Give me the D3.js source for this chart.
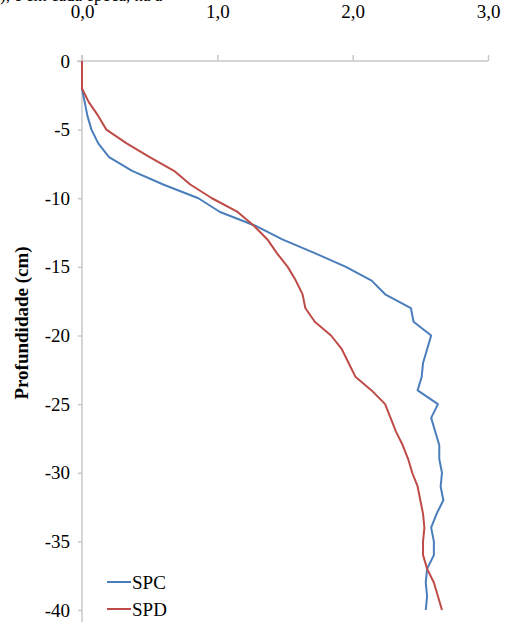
<!DOCTYPE html>
<html>
<head>
<meta charset="utf-8">
<script src="https://cdn.jsdelivr.net/npm/d3@7"></script>
<style>
  body { margin: 0; background: #fff; }
  svg { display: block; }
  .tick text { font-family: "Liberation Serif", "Times New Roman", serif; font-size: 19px; fill: #000; }
</style>
</head>
<body>
<div id="chart"></div>
<script>
// depth (cm) and values
var depths = [0, -1, -2, -3, -4, -5, -6, -7, -8, -9, -10, -11, -12, -13, -14, -15, -16, -17, -18, -19, -20,
  -21, -22, -23, -24, -25, -26, -27, -28, -29, -30, -31, -32, -33, -34, -35, -36, -37, -38, -39, -40];

var spc = [0, 0, 0, 0.02, 0.04, 0.07, 0.12, 0.2, 0.37, 0.6, 0.86, 1.02, 1.28, 1.48, 1.72, 1.95, 2.14, 2.24, 2.43, 2.45, 2.58,
  2.55, 2.52, 2.51, 2.48, 2.63, 2.58, 2.61, 2.64, 2.64, 2.66, 2.65, 2.67, 2.62, 2.58, 2.6, 2.6, 2.55, 2.54, 2.55, 2.54];

var spd = [0, 0, 0, 0.05, 0.12, 0.18, 0.33, 0.5, 0.68, 0.8, 0.96, 1.15, 1.27, 1.37, 1.44, 1.52, 1.58, 1.63, 1.65, 1.72, 1.84,
  1.92, 1.97, 2.02, 2.14, 2.24, 2.28, 2.32, 2.37, 2.41, 2.44, 2.48, 2.5, 2.52, 2.53, 2.52, 2.52, 2.55, 2.6, 2.63, 2.66];

var xTicks = [0, 1, 2, 3];
var yTicks = [0, -5, -10, -15, -20, -25, -30, -35, -40];

var series = [
  { name: "SPC", values: spc, color: "#4a7ebb" },
  { name: "SPD", values: spd, color: "#be4b48" }
];

var width = 505,
  height = 626;

var x = d3.scaleLinear().domain([0, 3]).range([82, 488]);
var y = d3.scaleLinear().domain([0, -40]).range([61, 610]);

var svg = d3.select("#chart")
  .append("svg")
  .attr("width", width)
  .attr("height", height);

// cropped text from the page above the figure (only its lower edge shows)
svg.append("text")
  .attr("x", 0)
  .attr("y", 1)
  .style("font-family", "Liberation Serif, serif")
  .style("font-size", "17px")
  .text("), e em cada época, na a");

// x axis on top
var xAxis = d3.axisTop(x)
  .tickValues(xTicks)
  .tickSize(6)
  .tickSizeOuter(0)
  .tickPadding(37)
  .tickFormat(function (d) { return d3.format(".1f")(d).replace(".", ","); });

var gx = svg.append("g")
  .attr("transform", "translate(0," + y(0) + ")")
  .call(xAxis);
gx.selectAll("line, path").attr("stroke", "#c8c8c8").attr("stroke-width", 1.5);
gx.select(".domain").attr("d", "M77,0H" + x(3));

// y axis
var yAxis = d3.axisLeft(y)
  .tickValues(yTicks)
  .tickSize(4)
  .tickSizeOuter(0)
  .tickPadding(8)
  .tickFormat(d3.format("d"));

var gy = svg.append("g")
  .attr("transform", "translate(" + x(0) + ",0)")
  .call(yAxis);
gy.selectAll("line, path").attr("stroke", "#c8c8c8").attr("stroke-width", 1.5);
gy.select(".domain").attr("d", "M0,55V622");
gy.selectAll(".tick text").text(function (d) { return d === 0 ? "0" : "-" + Math.abs(d); });

// axis title
svg.append("text")
  .attr("transform", "translate(28,323) rotate(-90)")
  .attr("text-anchor", "middle")
  .style("font-family", "Liberation Serif, serif")
  .style("font-size", "19px")
  .style("font-weight", "bold")
  .text("Profundidade (cm)");

// lines
var line = d3.line()
  .x(function (d) { return x(d[0]); })
  .y(function (d) { return y(d[1]); });

series.forEach(function (s) {
  svg.append("path")
    .datum(s.values.map(function (v, i) { return [v, depths[i]]; }))
    .attr("fill", "none")
    .attr("stroke", s.color)
    .attr("stroke-width", 2)
    .attr("stroke-linejoin", "round")
    .attr("d", line);
});

// legend
var legend = svg.append("g")
  .selectAll("g")
  .data(series)
  .enter()
  .append("g")
  .attr("transform", function (d, i) { return "translate(107," + (582 + i * 27) + ")"; });

legend.append("line")
  .attr("x1", 0).attr("x2", 24)
  .attr("stroke", function (d) { return d.color; })
  .attr("stroke-width", 2);

legend.append("text")
  .attr("x", 25)
  .attr("dy", "0.35em")
  .style("font-family", "Liberation Serif, serif")
  .style("font-size", "19px")
  .text(function (d) { return d.name; });
</script>
</body>
</html>
